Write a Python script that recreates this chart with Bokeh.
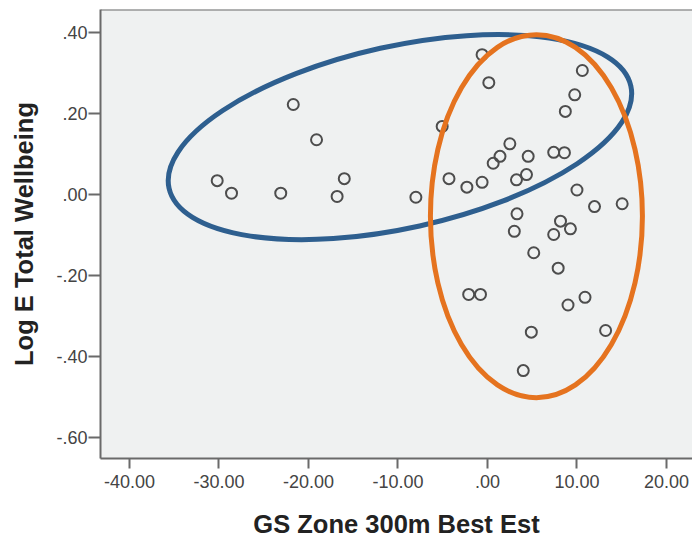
from bokeh.plotting import figure
from bokeh.models import FixedTicker, Span, Range1d
from bokeh.embed import file_html
from bokeh.resources import INLINE

# ---- data ----
gs_zone = [-30.2, -28.6, -23.1, -21.7, -19.1, -16.0, -16.8, -8.0, -5.06, -4.3,
           -0.6, 0.15, -2.3, -0.6, 2.5, 1.4, 0.64, 4.55, 3.24, 4.36,
           7.4, 8.6, 10.6, 9.75, 8.7, 10.0, 11.96, 15.05, 3.3, 3.0,
           8.16, 9.27, 7.4, 5.17, 7.9, -2.1, -0.78, 10.9, 9.0, 4.9,
           13.2, 4.0]
wellbeing = [0.033, 0.002, 0.002, 0.221, 0.134, 0.038, -0.006, -0.008, 0.167, 0.038,
             0.344, 0.275, 0.017, 0.029, 0.124, 0.093, 0.076, 0.093, 0.035, 0.048,
             0.103, 0.102, 0.305, 0.245, 0.204, 0.010, -0.031, -0.024, -0.049, -0.092,
             -0.067, -0.086, -0.100, -0.145, -0.183, -0.248, -0.248, -0.255, -0.274, -0.341,
             -0.337, -0.436]

x_ticks = [-40, -30, -20, -10, 0, 10, 20]
x_tick_labels = ["-40.00", "-30.00", "-20.00", "-10.00", ".00", "10.00", "20.00"]
y_ticks = [-0.6, -0.4, -0.2, 0.0, 0.2, 0.4]
y_tick_labels = ["-.60", "-.40", "-.20", ".00", ".20", ".40"]

# highlight ellipses: centre in data units
blue_center = (-9.78, 0.1405)
orange_center = (5.47, -0.0546)

X_START, X_END = -43.24, 22.91
Y_START, Y_END = -0.653, 0.4556

p = figure(width=692, height=540, output_backend="svg", toolbar_location=None,
           x_range=Range1d(X_START, X_END), y_range=Range1d(Y_START, Y_END),
           min_border_left=100, min_border_right=0, min_border_top=9, min_border_bottom=82)

p.background_fill_color = "#EFF1F1"
p.border_fill_color = "white"
p.outline_line_color = None
p.grid.visible = False

p.add_layout(Span(location=Y_END, dimension="width", line_color="#6a6a6a", line_width=2))

p.scatter(gs_zone, wellbeing, marker="circle", size=11, fill_color=None,
          line_color="#4d4d4d", line_width=2)

p.ellipse(x=[blue_center[0]], y=[blue_center[1]], width=[473], height=[182],
          width_units="screen", height_units="screen", angle=12.5, angle_units="deg",
          fill_color=None, line_color="#2E5F8F", line_width=5)
p.ellipse(x=[orange_center[0]], y=[orange_center[1]], width=[212], height=[363],
          width_units="screen", height_units="screen", angle=0,
          fill_color=None, line_color="#E5731F", line_width=5)

for ax in (p.xaxis[0], p.yaxis[0]):
    ax.axis_line_color = "#6a6a6a"
    ax.axis_line_width = 2
    ax.major_tick_line_color = "#6a6a6a"
    ax.major_tick_line_width = 2
    ax.minor_tick_line_color = None
    ax.major_tick_in = 0
    ax.major_label_text_font = "Liberation Sans"
    ax.major_label_text_font_size = "18px"
    ax.major_label_text_color = "#444444"
    ax.axis_label_text_font = "Liberation Sans"
    ax.axis_label_text_font_style = "bold"
    ax.axis_label_text_font_size = "25.5px"
    ax.axis_label_text_color = "#222222"

p.xaxis.ticker = FixedTicker(ticks=x_ticks)
p.xaxis.major_label_overrides = dict(zip(x_ticks, x_tick_labels))
p.xaxis.major_tick_out = 10
p.xaxis.major_label_standoff = 6
p.xaxis.axis_label = "GS Zone 300m Best Est"
p.xaxis.axis_label_standoff = 19

p.yaxis.ticker = FixedTicker(ticks=y_ticks)
p.yaxis.major_label_overrides = dict(zip(y_ticks, y_tick_labels))
p.yaxis.major_tick_out = 12
p.yaxis.major_label_standoff = 1
p.yaxis.axis_label = "Log E Total Wellbeing"
p.yaxis.axis_label_standoff = 15

open("out.html", "w").write(file_html(p, INLINE))
